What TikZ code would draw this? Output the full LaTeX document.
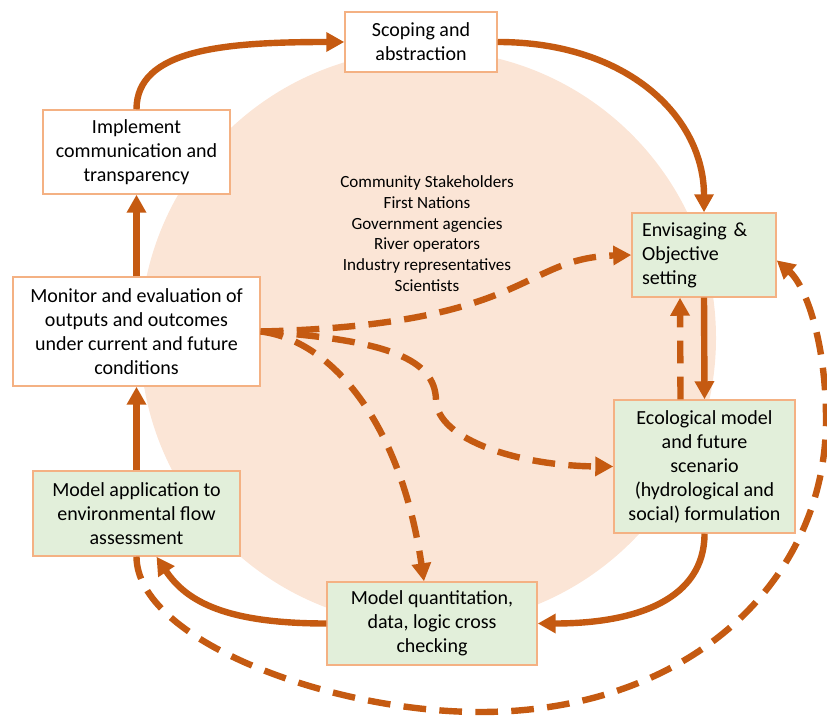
\documentclass[tikz,border=0pt]{standalone}
\usepackage{fontspec}
\setmainfont{Carlito}
\usetikzlibrary{arrows.meta}
\definecolor{arr}{HTML}{C55A11}
\definecolor{peach}{HTML}{FBE5D6}
\definecolor{grn}{HTML}{E2EFDA}
\definecolor{bord}{HTML}{F4B183}
\begin{document}
\begin{tikzpicture}[x=0.75pt,y=-0.75pt,
  box/.style={draw=bord, line width=1.1pt, align=center, inner sep=0pt,
    font=\fontsize{15}{18}\selectfont},
  wbox/.style={box, fill=white},
  gbox/.style={box, fill=grn},
  conn/.style={draw=arr, line width=4.8pt,
    -{Triangle[length=13.5pt,width=14pt]}},
  dconn/.style={conn, dash pattern=on 17pt off 10pt},
]
\useasboundingbox (0,0) rectangle (827,716);
\fill[peach] (428,338) circle[radius=216pt];

\node[wbox, minimum width=114pt, minimum height=45pt] (scope) at (421,42)
  {Scoping and\\abstraction};
\node[wbox, minimum width=140.25pt, minimum height=63pt] (impl) at (136.5,152)
  {Implement\\communication and\\transparency};
\node[wbox, minimum width=185.25pt, minimum height=81.75pt] (mon) at (136.5,331.5)
  {Monitor and evaluation of\\outputs and outcomes\\under current and future\\conditions};
\node[gbox, minimum width=155.25pt, minimum height=63.75pt] (app) at (136.5,513.5)
  {Model application to\\environmental flow\\assessment};
\node[gbox, minimum width=157.5pt, minimum height=62.25pt] (quant) at (432,623.5)
  {Model quantitation,\\data, logic cross\\checking};
\node[gbox, minimum width=135.75pt, minimum height=99.75pt] (eco) at (704.5,466.5)
  {Ecological model\\and future\\scenario\\(hydrological and\\social) formulation};
\node[gbox, minimum width=108pt, minimum height=63pt, align=left,
  text width=93pt, inner xsep=7.5pt] (env) at (704,255)
  {Envisaging \&\\Objective\\setting};

\node[align=center, font=\fontsize{12.8}{15.5}\selectfont] (stake) at (427,233.5)
  {Community Stakeholders\\First Nations\\Government agencies\\River operators\\Industry representatives\\Scientists};

% solid cycle
\draw[conn] (impl.north) .. controls +(0,-60) and +(-120,0) .. (scope.west);
\draw[conn] (scope.east) .. controls +(130,0) and +(0,-95) .. (env.north);
\draw[conn] (env.south) -- (eco.north);
\draw[conn] (eco.south) .. controls +(0,65) and +(100,0) .. (quant.east);
\draw[conn] (quant.west) .. controls +(-100,0) and +(30,45) .. ([xshift=15pt]app.south);
\draw[conn] (app.north) -- (mon.south);
\draw[conn] (mon.north) -- (impl.south);

% dashed
\draw[dconn] ([xshift=-18pt]eco.north) -- ([xshift=-18pt]env.south);
\draw[dconn] (mon.east) .. controls (530,325) and (520,258) .. (env.west);
\draw[dconn] (mon.east) .. controls (390,340) and (435,360) .. (436,400)
  .. controls (437,440) and (520,466) .. (eco.west);
\draw[dconn] (mon.east) .. controls (330,340) and (400,420) .. ([xshift=-6pt]quant.north);
\draw[dconn] (app.south) .. controls (137,640) and (330,712) .. (480,712)
  .. controls (690,712) and (826,580) .. (826,420)
  .. controls (826,340) and (805,285) .. ([yshift=-4pt]env.east);
\end{tikzpicture}
\end{document}
